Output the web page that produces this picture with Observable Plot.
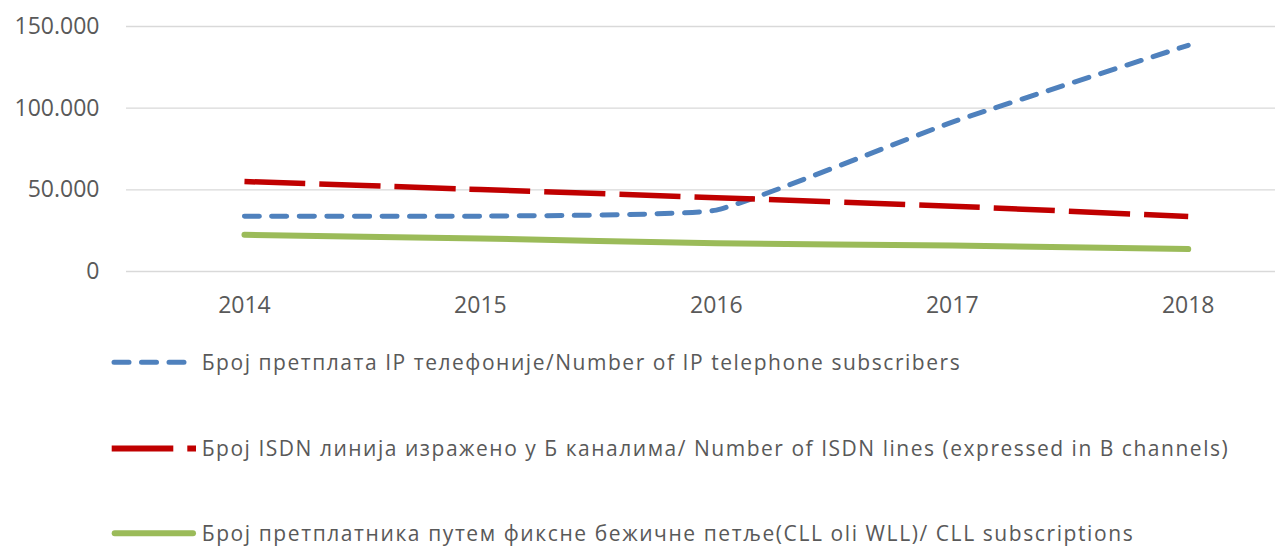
<!DOCTYPE html>
<html>
<head>
<meta charset="utf-8">
<script src="https://cdn.jsdelivr.net/npm/d3@7"></script>
<script src="https://cdn.jsdelivr.net/npm/@observablehq/plot@0.6"></script>
<style>
  html, body { margin: 0; padding: 0; background: #ffffff; }
  #chart { width: 1275px; height: 547px; position: relative; overflow: hidden; }
</style>
</head>
<body>
<div id="chart"></div>
<script>
const years = [2014, 2015, 2016, 2017, 2018];
const ipValues = [33900, 33900, 37600, 91500, 138500];
const isdnValues = [55100, 50200, 45200, 40000, 33700];
const cllValues = [22500, 20200, 17300, 15900, 13700];
const yTicks = [0, 50000, 100000, 150000];
const seriesLabels = [
  "Број претплата IP телефоније/Number of IP telephone subscribers",
  "Број ISDN линија изражено у Б каналима/ Number of ISDN lines (expressed in B channels)",
  "Број претплатника путем фиксне бежичне петље(CLL oli WLL)/ CLL subscriptions"
];
const seriesColors = ["#4F81BD", "#C00000", "#9BBB59"];

const fmt = d => d3.format(",")(d).replace(/,/g, ".");

const chart = Plot.plot({
  width: 1275,
  height: 320,
  marginLeft: 126,
  marginRight: 0,
  marginTop: 26,
  marginBottom: 49,
  x: {type: "linear", domain: [2013.5, 2018.37]},
  y: {domain: [0, 150000]},
  style: {fontFamily: "'Open Sans', sans-serif", fontSize: "23px", color: "#595959", background: "#ffffff", overflow: "visible"},
  marks: [
    Plot.ruleY(yTicks, {stroke: "#d9d9d9", strokeWidth: 1.4}),
    Plot.axisY({ticks: yTicks, tickSize: 0, tickPadding: 27, tickFormat: fmt, label: null, fontSize: 23}),
    Plot.axisX({ticks: years, tickSize: 0, tickPadding: 25, tickFormat: d => String(d), label: null, fontSize: 23}),
    Plot.line(years, {x: years, y: ipValues, stroke: seriesColors[0], strokeWidth: 5, strokeDasharray: "15,12.5", strokeLinecap: "round", curve: "cardinal", tension: 0.65}),
    Plot.line(years, {x: years, y: isdnValues, stroke: seriesColors[1], strokeWidth: 5.5, strokeDasharray: "61,14", strokeLinecap: "butt", curve: "cardinal", tension: 0.65}),
    Plot.line(years, {x: years, y: cllValues, stroke: seriesColors[2], strokeWidth: 6, strokeLinecap: "round", curve: "cardinal", tension: 0.65})
  ]
});
chart.style.position = "absolute";
chart.style.left = "0px";
chart.style.top = "0px";
document.getElementById("chart").appendChild(chart);

// Legend below the plot
const legendTop = 320;
const legend = d3.create("svg")
  .attr("width", 1275)
  .attr("height", 227)
  .style("position", "absolute")
  .style("left", "0px")
  .style("top", legendTop + "px")
  .style("font-family", "'Open Sans', sans-serif");

const rowY = [362.3, 448.5, 533.3].map(v => v - legendTop);
const textWidths = [758, 1026, 931];
const swatches = [
  {x1: 114, x2: 184.5, width: 5, dash: "15,12.5", cap: "round"},
  {x1: 111.7, x2: 196, width: 6, dash: "61.6,14", cap: "butt"},
  {x1: 114.7, x2: 193, width: 6, dash: null, cap: "round"}
];

seriesLabels.forEach((label, i) => {
  const s = swatches[i];
  const line = legend.append("line")
    .attr("x1", s.x1).attr("x2", s.x2)
    .attr("y1", rowY[i]).attr("y2", rowY[i])
    .attr("stroke", seriesColors[i])
    .attr("stroke-width", s.width)
    .attr("stroke-linecap", s.cap);
  if (s.dash) line.attr("stroke-dasharray", s.dash);
  legend.append("text")
    .attr("x", 201.7)
    .attr("y", rowY[i] + 7.7)
    .attr("fill", "#595959")
    .attr("font-size", 21)
    .attr("textLength", textWidths[i])
    .attr("lengthAdjust", "spacing")
    .text(label);
});

document.getElementById("chart").appendChild(legend.node());
</script>
</body>
</html>
